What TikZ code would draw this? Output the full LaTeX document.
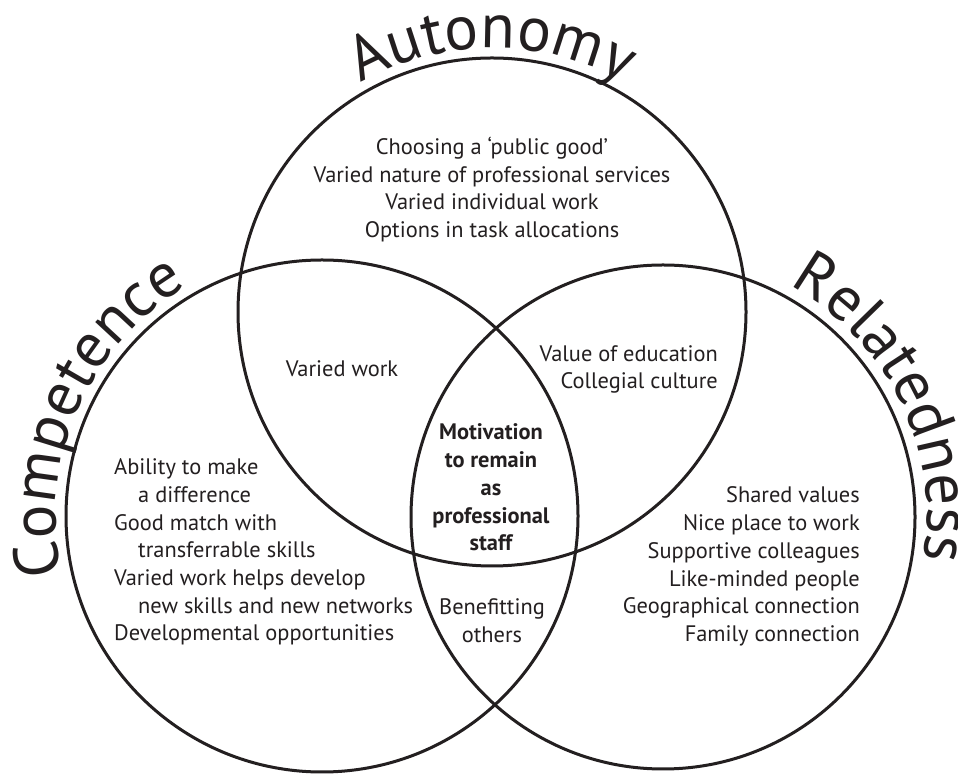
\documentclass[tikz,border=0pt]{standalone}
\usepackage{fontspec}
\setmainfont{PT Sans}
\usetikzlibrary{decorations.text}
\newcommand{\venntitlefont}{\fontsize{63}{63}\selectfont}
\definecolor{ink}{RGB}{35,31,32}
\begin{document}
\begin{tikzpicture}[x=1pt,y=1pt,
  venn/.style={draw=ink, line width=3pt},
  lbl/.style={text=ink, font=\fontsize{22.4}{27.7}\selectfont, inner sep=0pt},
  curved/.style={decorate, decoration={text along path, text align=center, text color=ink, text={|\venntitlefont|#1}}}]
\useasboundingbox (0,0) rectangle (958,776);
\fill[white] (0,0) rectangle (958,776);
\coordinate (aut) at (492,464);
\coordinate (comp) at (322,260);
\coordinate (rel) at (663,259);
\draw[venn] (aut) circle[radius=254];
\draw[venn] (comp) circle[radius=256];
\draw[venn] (rel) circle[radius=252];
\path[curved=Autonomy] (aut) ++(180:264) arc[start angle=180, end angle=0, radius=264];
\path[curved=Competence] (comp) ++(241.5:266) arc[start angle=241.5, end angle=71.5, radius=266];
\path[curved=Relatedness] (rel) ++(111:264) arc[start angle=111, end angle=-59, radius=264];
\node[lbl, align=center] (autT) at (492,586.5) {Choosing a `public good'\\Varied nature of professional services\\Varied individual work\\Options in task allocations};
\node[lbl, align=left, anchor=west] (compT) at (114,224) {Ability to make\\\hspace*{24pt}a difference\\Good match with\\\hspace*{24pt}transferrable skills\\Varied work helps develop\\\hspace*{24pt}new skills and new networks\\Developmental opportunities};
\node[lbl, align=right, anchor=east] (relT) at (860,209.5) {Shared values\\Nice place to work\\Supportive colleagues\\Like-minded people\\Geographical connection\\Family connection};
\node[lbl] (acT) at (342,407) {Varied work};
\node[lbl, align=right, anchor=east] (arT) at (718,406.5) {Value of education\\Collegial culture};
\node[lbl, align=center, font=\fontsize{22.4}{27.7}\selectfont\bfseries] (core) at (491,288.5) {Motivation\\to remain\\as\\professional\\staff};
\node[lbl, align=center] (crT) at (492,155.5) {Benefitting\\others};
\end{tikzpicture}
\end{document}
